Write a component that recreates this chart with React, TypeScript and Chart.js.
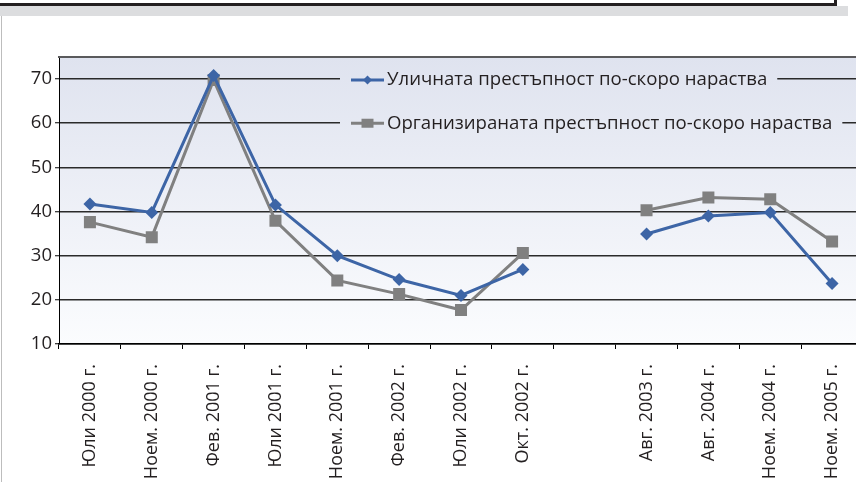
import React, { useEffect, useRef } from "react";
import { Chart, registerables } from "chart.js";

Chart.register(...registerables);

const categories = [
  "Юли 2000 г.",
  "Ноем. 2000 г.",
  "Фев. 2001 г.",
  "Юли 2001 г.",
  "Ноем. 2001 г.",
  "Фев. 2002 г.",
  "Юли 2002 г.",
  "Окт. 2002 г.",
  "",
  "Авг. 2003 г.",
  "Авг. 2004 г.",
  "Ноем. 2004 г.",
  "Ноем. 2005 г.",
];

const streetCrime = [41.7, 39.8, 70.8, 41.5, 30.0, 24.6, 21.0, 26.9, null, 34.9, 39.0, 39.8, 23.7];
const organizedCrime = [37.6, 34.2, 69.8, 37.9, 24.4, 21.3, 17.7, 30.6, null, 40.3, 43.2, 42.8, 33.2];

const seriesNames = [
  "Уличната престъпност по-скоро нараства",
  "Организираната престъпност по-скоро нараства",
];

const yTicks = [10, 20, 30, 40, 50, 60, 70];
const yMin = 10;
const yMax = 75;

const BLUE = "#3d65a6";
const GRAY = "#808080";
const TEXT = "#231f20";
const FONT = "'Open Sans', 'DejaVu Sans', sans-serif";

function makeGradient(ctx: CanvasRenderingContext2D, area: any) {
  const g = ctx.createLinearGradient(0, area.top, 0, area.bottom);
  g.addColorStop(0, "#dfe3ef");
  g.addColorStop(1, "#fbfcfe");
  return g;
}

const backgroundPlugin = {
  id: "plotBg",
  beforeDraw(chart: any) {
    const { ctx, chartArea } = chart;
    ctx.save();
    ctx.fillStyle = makeGradient(ctx, chartArea);
    ctx.fillRect(chartArea.left, chartArea.top, chartArea.right - chartArea.left, chartArea.bottom - chartArea.top);
    ctx.restore();
  },
  afterDraw(chart: any) {
    const { ctx, chartArea } = chart;
    ctx.save();
    ctx.strokeStyle = "#5a5a5c";
    ctx.lineWidth = 2;
    ctx.beginPath();
    ctx.moveTo(chartArea.left - 1, chartArea.top);
    ctx.lineTo(chartArea.right, chartArea.top);
    ctx.stroke();
    ctx.restore();
  },
};

const legendPlugin = {
  id: "insideLegend",
  afterDatasetsDraw(chart: any) {
    const { ctx, chartArea } = chart;
    const yScale = chart.scales.y;
    const rows = [
      { y: yScale.getPixelForValue(70) + 1, color: BLUE, style: "rectRot", r: 4.5 },
      { y: yScale.getPixelForValue(60), color: GRAY, style: "rect", r: 6 },
    ];
    ctx.save();
    ctx.font = `18.6px ${FONT}`;
    seriesNames.forEach((name, i) => {
      const row = rows[i];
      const x0 = 344;
      const lineStart = 351;
      const lineEnd = 384;
      const textX = 387;
      const tw = ctx.measureText(name).width;
      ctx.fillStyle = makeGradient(ctx, chartArea);
      ctx.fillRect(x0 - 4, row.y - 10, textX + tw + 10 - (x0 - 4), 20);
      ctx.strokeStyle = row.color;
      ctx.lineWidth = 3;
      ctx.beginPath();
      ctx.moveTo(lineStart, row.y);
      ctx.lineTo(lineEnd, row.y);
      ctx.stroke();
      ctx.fillStyle = row.color;
      const cx = (lineStart + lineEnd) / 2;
      ctx.beginPath();
      if (row.style === "rectRot") {
        ctx.moveTo(cx, row.y - row.r);
        ctx.lineTo(cx + row.r, row.y);
        ctx.lineTo(cx, row.y + row.r);
        ctx.lineTo(cx - row.r, row.y);
        ctx.closePath();
      } else {
        ctx.rect(cx - row.r, row.y - row.r * 0.75, row.r * 2, row.r * 1.5);
      }
      ctx.fill();
      ctx.fillStyle = TEXT;
      ctx.textBaseline = "middle";
      ctx.textAlign = "left";
      ctx.fillText(name, textX, row.y);
    });
    ctx.restore();
  },
};

export default function App() {
  const canvasRef = useRef<HTMLCanvasElement | null>(null);

  useEffect(() => {
    if (!canvasRef.current) return;
    const chart = new Chart(canvasRef.current, {
      type: "line",
      data: {
        labels: categories,
        datasets: [
          {
            label: seriesNames[0],
            data: streetCrime,
            borderColor: BLUE,
            backgroundColor: BLUE,
            borderWidth: 3,
            pointStyle: "rectRot",
            pointRadius: 6.5,
            pointBorderWidth: 0,
            pointBackgroundColor: BLUE,
            tension: 0,
            spanGaps: false,
          },
          {
            label: seriesNames[1],
            data: organizedCrime,
            borderColor: GRAY,
            backgroundColor: GRAY,
            borderWidth: 3,
            pointStyle: "rect",
            pointRadius: 8.5,
            pointBorderWidth: 0,
            pointBackgroundColor: GRAY,
            tension: 0,
            spanGaps: false,
          },
        ],
      },
      options: {
        animation: false,
        responsive: false,
        devicePixelRatio: 1,
        layout: { padding: { top: 57, right: 17, left: 0, bottom: 0 } },
        plugins: {
          legend: { display: false },
          tooltip: { enabled: false },
        },
        scales: {
          x: {
            type: "category",
            offset: true,
            grid: {
              offset: true,
              drawOnChartArea: false,
              drawTicks: true,
              tickLength: 5,
              tickColor: "#000",
              tickWidth: 1,
            },
            border: { display: true, color: "#000", width: 1.5 },
            ticks: {
              minRotation: 90,
              maxRotation: 90,
              autoSkip: false,
              padding: 15,
              color: TEXT,
              font: { family: FONT, size: 18 },
            },
            afterFit: (s: any) => {
              s.height = 138;
            },
          },
          y: {
            min: yMin,
            max: yMax,
            afterBuildTicks: (s: any) => {
              s.ticks = yTicks.map((v) => ({ value: v }));
            },
            grid: {
              color: "#2a2a2a",
              lineWidth: 1.5,
              drawTicks: true,
              tickLength: 4,
              tickColor: "#000",
              tickWidth: 1,
            },
            border: { display: true, color: "#000", width: 1 },
            ticks: {
              padding: 3,
              color: TEXT,
              font: { family: FONT, size: 18.5 },
            },
            afterFit: (s: any) => {
              s.width = 59;
            },
          },
        },
      },
      plugins: [backgroundPlugin, legendPlugin],
    });
    return () => chart.destroy();
  }, []);

  return (
    <div
      style={{
        position: "fixed",
        left: 0,
        top: 0,
        width: 856,
        height: 482,
        overflow: "hidden",
        background: "#ffffff",
      }}
    >
      <canvas
        ref={canvasRef}
        width={880}
        height={482}
        style={{ position: "absolute", left: 0, top: 0, width: 880, height: 482 }}
      />
      <div style={{ position: "absolute", left: 0, top: 6, width: 848, height: 10, background: "#dcdddf" }} />
      <div style={{ position: "absolute", left: 0, top: 3, width: 837, height: 3, background: "#231f20" }} />
      <div style={{ position: "absolute", left: 834, top: 0, width: 3, height: 6, background: "#231f20" }} />
      <div style={{ position: "absolute", left: 1, top: 16, width: 1, height: 466, background: "#bdbdbd" }} />
    </div>
  );
}
